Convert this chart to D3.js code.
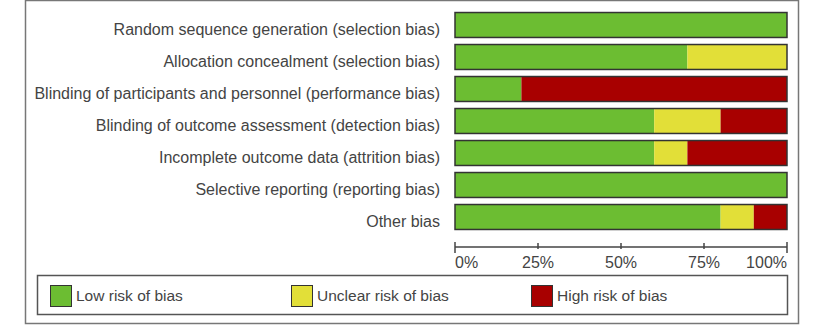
<!doctype html>
<html>
<head>
<meta charset="utf-8"/>
<title>Risk of bias graph</title>
<script src="https://cdn.jsdelivr.net/npm/d3@7"></script>
<style>
  body { margin: 0; background: #fff; }
  text { font-family: "Liberation Sans", Arial, sans-serif; fill: #444; }
</style>
</head>
<body>
<script>
// rows, top to bottom
var domains = [
  "Random sequence generation (selection bias)",
  "Allocation concealment (selection bias)",
  "Blinding of participants and personnel (performance bias)",
  "Blinding of outcome assessment (detection bias)",
  "Incomplete outcome data (attrition bias)",
  "Selective reporting (reporting bias)",
  "Other bias"
];
// percentage of studies per judgement
var lowRisk     = [100, 70, 20, 60, 60, 100, 80];
var unclearRisk = [0,   30, 0,  20, 10, 0,   10];
var highRisk    = [0,   0,  80, 20, 30, 0,   10];

var judgements = ["Low risk of bias", "Unclear risk of bias", "High risk of bias"];
var colours = ["#6cbd32", "#e2df38", "#a80000"];
var tickValues = [0, 25, 50, 75, 100];

var W = 814, H = 326;
var svg = d3.select("body").append("svg")
    .attr("width", W).attr("height", H);

// outer frame
svg.append("rect")
    .attr("x", 25.5).attr("y", 0.5)
    .attr("width", 773).attr("height", 323)
    .attr("fill", "none").attr("stroke", "#777").attr("stroke-width", 1.5);

var x = d3.scaleLinear().domain([0, 100]).range([455, 787]);
var y = d3.scaleBand().domain(domains).range([9, 233]).paddingInner(0.22).paddingOuter(0.11);

var series = [lowRisk, unclearRisk, highRisk];
var rows = domains.map(function(d, i) {
  var start = 0, segs = [];
  series.forEach(function(s, k) {
    segs.push({ from: start, to: start + s[i], k: k });
    start += s[i];
  });
  return { name: d, segs: segs };
});

var g = svg.selectAll("g.row").data(rows).enter().append("g").attr("class", "row");

g.selectAll("rect.seg")
    .data(function(r) { return r.segs.filter(function(s) { return s.to > s.from; })
                          .map(function(s) { s.name = r.name; return s; }); })
    .enter().append("rect")
    .attr("x", function(s) { return x(s.from); })
    .attr("y", function(s) { return y(s.name); })
    .attr("width", function(s) { return x(s.to) - x(s.from); })
    .attr("height", y.bandwidth())
    .attr("fill", function(s) { return colours[s.k]; });

// dark border around the whole bar
g.append("rect")
    .attr("x", x(0)).attr("y", function(r) { return y(r.name); })
    .attr("width", x(100) - x(0)).attr("height", y.bandwidth())
    .attr("fill", "none").attr("stroke", "#333").attr("stroke-width", 1.5);

g.append("text")
    .attr("x", 440)
    .attr("y", function(r) { return y(r.name) + y.bandwidth() / 2 + 10; })
    .attr("text-anchor", "end")
    .attr("font-size", 16)
    .text(function(r) { return r.name; });

// axis
var axisY = 247;
svg.append("line")
    .attr("x1", x(0)).attr("x2", x(100)).attr("y1", axisY).attr("y2", axisY)
    .attr("stroke", "#444").attr("stroke-width", 1.5);
svg.selectAll("line.tick").data(tickValues).enter().append("line")
    .attr("x1", function(d) { return x(d); }).attr("x2", function(d) { return x(d); })
    .attr("y1", function(d) { return (d == 0 || d == 100) ? 242 : 243; })
    .attr("y2", function(d) { return (d == 0 || d == 100) ? 253 : 249; })
    .attr("stroke", "#444").attr("stroke-width", 1.5);
svg.selectAll("text.tick").data(tickValues).enter().append("text")
    .attr("x", function(d) { return x(d); })
    .attr("y", 268)
    .attr("font-size", 16)
    .attr("text-anchor", function(d) { return d == 0 ? "start" : (d == 100 ? "end" : "middle"); })
    .text(function(d) { return d + "%"; });

// legend
svg.append("rect")
    .attr("x", 37.5).attr("y", 275.5).attr("width", 750).attr("height", 39)
    .attr("fill", "none").attr("stroke", "#555").attr("stroke-width", 1.5);
var legendX = [50, 291, 531];
var lg = svg.selectAll("g.leg").data(judgements).enter().append("g")
    .attr("transform", function(d, i) { return "translate(" + legendX[i] + ",285)"; });
lg.append("rect")
    .attr("x", 0.5).attr("y", 0.5).attr("width", 21).attr("height", 21)
    .attr("fill", function(d, i) { return colours[i]; })
    .attr("stroke", "#333").attr("stroke-width", 1);
lg.append("text")
    .attr("x", 26).attr("y", 16)
    .attr("font-size", 15.5)
    .text(function(d) { return d; });
</script>
</body>
</html>
